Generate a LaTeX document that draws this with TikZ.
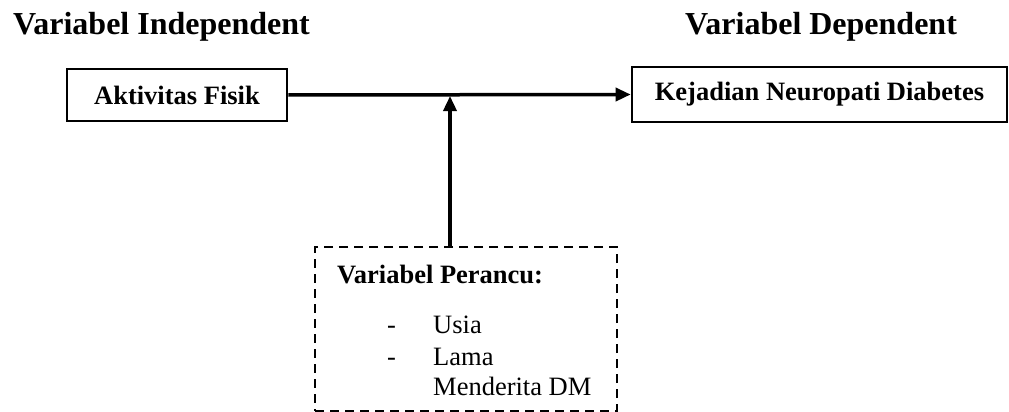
\documentclass[tikz,border=0pt]{standalone}
\usepackage{fontspec}
\setmainfont{Liberation Serif}
\usetikzlibrary{arrows.meta}
\begin{document}
\begin{tikzpicture}[x=1pt,y=-1pt,
  title/.style={anchor=base west,inner sep=0pt,font=\fontsize{32}{36}\selectfont\bfseries},
  varbox/.style={draw,line width=2.6pt,inner sep=0pt,font=\fontsize{26.5}{31}\selectfont\bfseries},
  bodytext/.style={anchor=base west,inner sep=0pt,font=\fontsize{26.5}{31}\selectfont},
  arr/.style={line width=3.5pt,-{Triangle[length=15pt,width=13pt]}}]
\useasboundingbox (0,0) rectangle (1009,412);
\node[title] (tind) at (13,35) {Variabel Independent};
\node[title] (tdep) at (685,35) {Variabel Dependent};
\node[varbox,minimum width=220pt,minimum height=52pt] (akt) at (177,95) {Aktivitas Fisik};
\node[varbox,minimum width=375pt,minimum height=55pt] (kej) at (819.5,94.5) {Kejadian Neuropati Diabetes};
\node[draw,line width=2.6pt,dash pattern=on 9pt off 6pt,inner sep=0pt,minimum width=302pt,minimum height=164pt] (per) at (466,329) {};
\node[bodytext,font=\fontsize{26.5}{31}\selectfont\bfseries] (ptitle) at (337,283) {Variabel Perancu:};
\node[bodytext] (d1) at (387,333) {-};
\node[bodytext] (d2) at (387,365) {-};
\node[bodytext] (i1) at (433,333) {Usia};
\node[bodytext] (i2) at (433,365) {Lama};
\node[bodytext] (i3) at (433,395) {Menderita DM};
\draw[arr] (akt.east) -- (kej.west);
\coordinate (vb) at (450,247);
\coordinate (vt) at (450,96);
\draw[arr] (vb) -- (vt);
\end{tikzpicture}
\end{document}
